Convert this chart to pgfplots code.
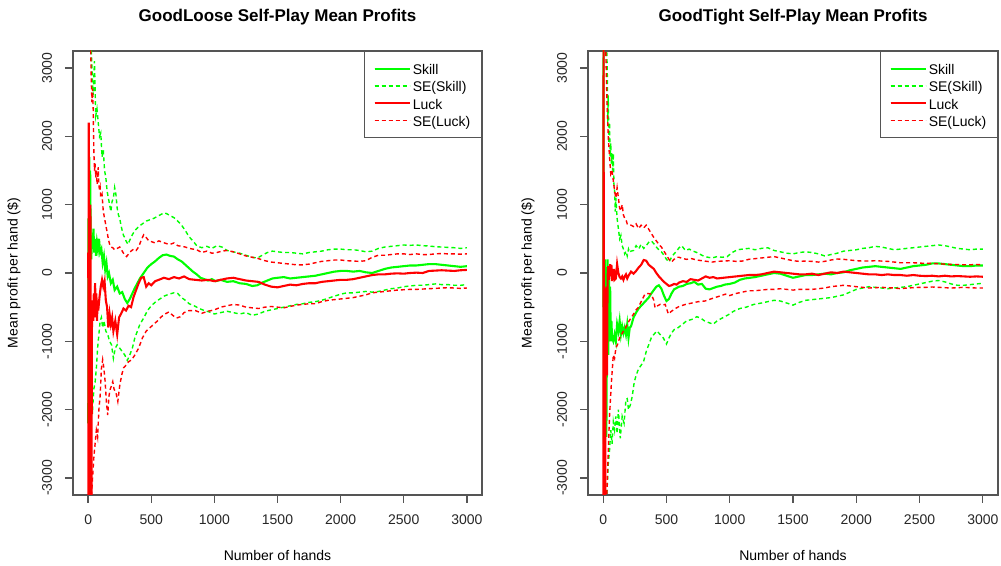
\documentclass[border=0pt]{standalone}
\usepackage{pgfplots}
\pgfplotsset{compat=1.18}
\usepackage{fontspec}
\setmainfont{Liberation Sans}

\definecolor{rgreen}{RGB}{0,255,0}
\definecolor{rred}{RGB}{255,0,0}
\definecolor{rframe}{RGB}{85,85,85}

\pgfplotsset{
  rpanel/.style={
    scale only axis, height=444pt,
    xmin=-120, xmax=3120, ymin=-3250, ymax=3250,
    xtick={0,500,1000,1500,2000,2500,3000},
    xticklabels={0,500,1000,1500,2000,2500,3000},
    ytick={-3000,-2000,-1000,0,1000,2000,3000},
    yticklabels={-3000,-2000,-1000,0,1000,2000,3000},
    tick align=outside, xtick pos=left, ytick pos=left,
    major tick length=8pt,
    axis line style={rframe, line width=1.3pt},
    every tick/.style={rframe, line width=1.3pt},
    ticklabel style={font=\fontsize{14}{16}\selectfont, text=black!85},
    xticklabel style={anchor=center, yshift=-17pt},
    yticklabel style={rotate=90, anchor=center, yshift=18pt},
    title style={at={(0.5,1)}, anchor=center, yshift=28pt,
      font=\fontsize{17}{20}\selectfont\bfseries},
    xlabel style={at={(0.5,0)}, anchor=center, yshift=-60pt,
      font=\fontsize{14}{16}\selectfont},
    ylabel style={at={(0,0.5)}, anchor=center,
      font=\fontsize{14}{16}\selectfont},
    xlabel={Number of hands},
    ylabel={Mean profit per hand (\$)},
    legend cell align=left,
    legend image code/.code={\draw[##1, line width=1.5pt] (0pt,0pt) -- (27pt,0pt); \path (0pt,0pt) -- (35pt,0pt);},
    legend style={at={(1,1)}, anchor=north east, draw=rframe, line width=1.3pt,
      font=\fontsize{14}{16}\selectfont, inner xsep=9pt, inner ysep=8.3pt,
      nodes={inner sep=2pt, text height=12.6pt, text depth=0.7pt}, row sep=0pt},
  },
  skill/.style={rgreen, line width=2.1pt},
  seskill/.style={rgreen, line width=1.4pt, dash pattern=on 4pt off 3pt},
  luck/.style={rred, line width=2.1pt},
  seluck/.style={rred, line width=1.4pt, dash pattern=on 4pt off 3pt},
}

\begin{document}
\begin{tikzpicture}
\useasboundingbox (0pt,0pt) rectangle (1001pt,565pt);

% ---------------- GoodLoose ----------------
\begin{axis}[rpanel, at={(73pt,70pt)}, anchor=south west, width=409pt,
  title={GoodLoose Self-Play Mean Profits},
  ylabel style={yshift=59pt}]
\addplot[skill] coordinates {(1,-2200)(3,800)(6,-500)(9,1700)(12,300)(16,1500)(20,500)(25,200)(30,550)(36,350)(42,650)(48,300)(55,500)(62,250)(70,450)(78,350)(86,500)(95,300)(105,350)(115,150)(125,250)(135,50)(145,150)(155,-50)(165,0)(180,-150)(195,-100)(210,-250)(230,-200)(250,-300)(270,-280)(290,-380)(310,-440)(330,-380)(350,-300)(370,-220)(390,-150)(410,-80)(440,0)(470,80)(500,130)(530,170)(560,220)(590,260)(620,270)(650,250)(680,240)(710,200)(740,170)(770,120)(800,70)(830,20)(860,-20)(890,-70)(920,-90)(950,-110)(980,-90)(1010,-120)(1050,-100)(1100,-130)(1150,-120)(1200,-150)(1250,-160)(1300,-190)(1340,-180)(1380,-140)(1420,-110)(1460,-80)(1500,-70)(1550,-60)(1600,-80)(1650,-70)(1700,-60)(1750,-50)(1800,-40)(1850,-20)(1900,0)(1950,20)(2000,30)(2050,30)(2100,20)(2150,30)(2200,10)(2250,0)(2300,30)(2350,60)(2400,80)(2450,90)(2500,100)(2550,110)(2600,110)(2650,120)(2700,130)(2750,130)(2800,120)(2850,110)(2900,100)(2950,90)(3000,100)};
\addlegendentry{Skill}
\addplot[seskill] coordinates {(1,5000)(10,4500)(20,3600)(25,3250)(30,3000)(40,2600)(50,3100)(60,2300)(70,2400)(80,2200)(90,2000)(100,2050)(110,1700)(120,1800)(130,1500)(140,1400)(150,1200)(160,1100)(170,1000)(180,900)(190,1050)(200,1100)(210,1250)(220,1150)(230,950)(240,850)(250,800)(260,700)(270,620)(280,550)(290,520)(300,470)(315,420)(330,480)(350,560)(370,620)(400,680)(430,720)(460,760)(490,780)(520,800)(550,830)(580,860)(600,880)(620,870)(650,840)(680,810)(710,760)(740,700)(770,620)(800,530)(830,470)(860,400)(900,370)(940,390)(980,360)(1020,400)(1060,380)(1100,330)(1150,310)(1200,290)(1250,260)(1300,230)(1340,220)(1380,260)(1420,300)(1460,320)(1500,310)(1550,300)(1600,300)(1650,290)(1700,280)(1750,300)(1800,310)(1850,320)(1900,340)(1950,350)(2000,350)(2050,340)(2100,340)(2150,330)(2200,310)(2250,320)(2300,360)(2350,380)(2400,390)(2450,400)(2500,410)(2550,405)(2600,410)(2650,400)(2700,395)(2750,385)(2800,380)(2850,375)(2900,370)(2950,360)(3000,370)};
\addlegendentry{SE(Skill)}
\addplot[seskill, forget plot] coordinates {(1,-5000)(10,-3000)(15,-2200)(20,-2500)(25,-1900)(35,-2000)(45,-1700)(55,-1600)(65,-1400)(75,-1100)(85,-900)(95,-700)(105,-650)(115,-800)(125,-700)(140,-850)(155,-900)(170,-1000)(185,-1050)(200,-1250)(215,-1100)(230,-1050)(250,-1100)(270,-1150)(290,-1200)(310,-1280)(330,-1200)(350,-1100)(370,-950)(390,-850)(410,-750)(440,-660)(470,-550)(500,-480)(530,-430)(560,-390)(600,-340)(640,-310)(680,-290)(710,-300)(740,-360)(770,-400)(800,-450)(840,-480)(880,-520)(920,-550)(960,-570)(1000,-600)(1050,-580)(1100,-560)(1150,-580)(1200,-600)(1250,-580)(1300,-620)(1350,-600)(1400,-560)(1450,-540)(1500,-520)(1550,-500)(1600,-480)(1650,-460)(1700,-450)(1750,-430)(1800,-420)(1850,-400)(1900,-370)(1950,-340)(2000,-310)(2050,-290)(2100,-290)(2150,-280)(2200,-270)(2250,-280)(2300,-270)(2350,-250)(2400,-230)(2450,-220)(2500,-200)(2550,-190)(2600,-180)(2650,-180)(2700,-170)(2750,-160)(2800,-170)(2850,-170)(2900,-180)(2950,-180)(3000,-170)};
\addplot[luck] coordinates {(1,300)(3,-3500)(5,2200)(8,-500)(11,500)(14,-3500)(18,1000)(22,-2000)(26,-3500)(30,-800)(35,-400)(40,-700)(45,-300)(50,-650)(55,-150)(60,-600)(65,-300)(70,-700)(75,-400)(80,-550)(90,-350)(100,-200)(110,-100)(120,-200)(130,-120)(140,-400)(150,-500)(160,-800)(170,-600)(180,-750)(190,-650)(200,-850)(215,-700)(230,-900)(245,-650)(260,-600)(280,-520)(300,-550)(320,-480)(340,-500)(360,-350)(380,-250)(400,-150)(420,-70)(440,-60)(460,-200)(480,-150)(500,-180)(530,-120)(560,-100)(600,-70)(640,-90)(680,-60)(720,-80)(760,-50)(800,-90)(850,-100)(900,-110)(950,-100)(1000,-120)(1050,-100)(1100,-80)(1150,-70)(1200,-90)(1250,-110)(1300,-120)(1350,-130)(1400,-170)(1450,-200)(1500,-210)(1550,-190)(1600,-170)(1650,-180)(1700,-160)(1750,-150)(1800,-150)(1850,-130)(1900,-120)(1950,-110)(2000,-100)(2050,-100)(2100,-90)(2150,-70)(2200,-50)(2250,-30)(2300,-20)(2350,-20)(2400,-10)(2450,-5)(2500,-10)(2550,0)(2600,5)(2650,0)(2700,30)(2750,35)(2800,40)(2850,35)(2900,30)(2950,40)(3000,45)};
\addlegendentry{Luck}
\addplot[seluck] coordinates {(1,5000)(10,4200)(18,3500)(25,2800)(30,2500)(35,2700)(40,2400)(45,1800)(50,1500)(55,1600)(60,1400)(65,1500)(70,1300)(75,1350)(80,1550)(85,1300)(90,1200)(95,1250)(100,1100)(110,1150)(120,900)(130,800)(140,700)(150,600)(160,500)(170,420)(180,380)(195,370)(210,340)(230,360)(250,380)(270,320)(290,260)(305,240)(320,280)(340,320)(360,350)(380,330)(400,380)(420,480)(440,560)(460,520)(480,470)(500,460)(530,440)(560,470)(590,450)(620,430)(650,420)(680,440)(710,400)(740,390)(770,380)(800,360)(830,350)(860,340)(900,300)(940,320)(980,290)(1020,300)(1060,320)(1100,330)(1150,310)(1200,280)(1250,250)(1300,230)(1350,210)(1400,180)(1450,160)(1500,150)(1550,140)(1600,130)(1650,120)(1700,120)(1750,130)(1800,150)(1850,170)(1900,180)(1950,190)(2000,190)(2050,180)(2100,175)(2150,170)(2200,180)(2250,230)(2300,260)(2350,260)(2400,270)(2450,280)(2500,280)(2550,270)(2600,280)(2650,270)(2700,270)(2750,280)(2800,285)(2850,280)(2900,280)(2950,275)(3000,280)};
\addlegendentry{SE(Luck)}
\addplot[seluck, forget plot] coordinates {(1,-5000)(15,-3500)(25,-3300)(35,-3000)(45,-2700)(55,-2500)(65,-2300)(75,-2400)(85,-2000)(95,-1800)(105,-1400)(115,-1270)(125,-1400)(135,-1600)(145,-1900)(155,-2080)(165,-1800)(175,-1700)(185,-1650)(195,-1590)(205,-1700)(220,-1750)(235,-1880)(250,-1650)(265,-1500)(280,-1390)(300,-1350)(320,-1300)(345,-1270)(370,-1200)(400,-1100)(430,-950)(460,-850)(490,-800)(520,-750)(550,-700)(580,-640)(610,-600)(640,-570)(670,-620)(700,-660)(730,-640)(760,-580)(800,-550)(850,-550)(900,-590)(950,-560)(1000,-540)(1050,-500)(1100,-480)(1150,-460)(1200,-470)(1250,-500)(1300,-510)(1350,-520)(1400,-500)(1450,-490)(1500,-500)(1550,-510)(1600,-490)(1650,-470)(1700,-460)(1750,-450)(1800,-450)(1850,-420)(1900,-400)(1950,-390)(2000,-380)(2050,-370)(2100,-360)(2150,-340)(2200,-320)(2250,-290)(2300,-280)(2350,-270)(2400,-260)(2450,-250)(2500,-245)(2550,-240)(2600,-240)(2650,-235)(2700,-230)(2750,-225)(2800,-220)(2850,-215)(2900,-220)(2950,-225)(3000,-220)};
\end{axis}

% ---------------- GoodTight ----------------
\begin{axis}[rpanel, at={(588pt,70pt)}, anchor=south west, width=410pt,
  title={GoodTight Self-Play Mean Profits},
  ylabel style={yshift=60pt}]
\addplot[skill] coordinates {(1,-500)(3,3500)(6,-2500)(9,-500)(12,-2450)(15,200)(18,-1500)(21,0)(25,-2400)(30,-800)(35,200)(40,-1200)(45,100)(50,-900)(55,-200)(60,-1000)(65,-700)(70,-950)(80,-1000)(90,-900)(100,-1000)(110,-750)(120,-850)(130,-700)(140,-900)(150,-780)(160,-880)(170,-800)(180,-900)(190,-750)(200,-950)(210,-800)(220,-780)(240,-650)(260,-580)(280,-520)(300,-480)(320,-440)(340,-400)(360,-360)(380,-300)(400,-250)(420,-200)(440,-180)(460,-230)(480,-330)(500,-410)(520,-380)(540,-300)(560,-240)(580,-220)(600,-200)(630,-190)(660,-160)(690,-150)(720,-130)(750,-170)(780,-160)(810,-230)(840,-240)(870,-220)(900,-200)(930,-190)(960,-170)(1000,-160)(1040,-140)(1080,-100)(1120,-80)(1160,-70)(1200,-60)(1250,-40)(1300,-20)(1350,0)(1400,-10)(1450,-40)(1500,-70)(1550,-50)(1600,-30)(1650,-30)(1700,-20)(1750,-10)(1800,-20)(1850,0)(1900,10)(1950,40)(2000,60)(2050,80)(2100,90)(2150,100)(2200,90)(2250,80)(2300,70)(2350,60)(2400,80)(2450,100)(2500,110)(2550,120)(2600,140)(2650,140)(2700,130)(2750,120)(2800,110)(2850,100)(2900,100)(2950,110)(3000,110)};
\addlegendentry{Skill}
\addplot[seskill] coordinates {(1,6000)(20,4500)(28,3250)(32,3000)(36,2200)(40,2600)(45,1900)(50,2200)(55,1700)(60,1900)(65,1600)(70,1750)(75,1500)(80,1750)(85,1300)(90,1200)(95,900)(100,1100)(110,800)(120,650)(130,500)(140,550)(150,400)(160,350)(170,280)(180,320)(190,250)(200,350)(210,300)(220,320)(240,330)(260,400)(280,350)(300,420)(320,360)(340,400)(360,450)(380,470)(400,430)(420,380)(440,340)(460,310)(480,260)(500,200)(520,160)(540,230)(560,280)(580,320)(600,370)(620,400)(650,330)(680,350)(710,320)(740,300)(770,270)(800,240)(830,230)(860,220)(900,240)(940,230)(980,240)(1020,300)(1060,340)(1100,350)(1150,360)(1200,340)(1250,360)(1300,370)(1350,330)(1400,310)(1450,290)(1500,280)(1550,300)(1600,310)(1650,300)(1700,280)(1750,250)(1800,270)(1850,290)(1900,320)(1950,330)(2000,340)(2050,360)(2100,370)(2150,390)(2200,380)(2250,360)(2300,340)(2350,350)(2400,360)(2450,370)(2500,380)(2550,390)(2600,400)(2650,410)(2700,400)(2750,380)(2800,360)(2850,350)(2900,340)(2950,350)(3000,350)};
\addlegendentry{SE(Skill)}
\addplot[seskill, forget plot] coordinates {(1,-6000)(20,-4500)(30,-3200)(40,-2800)(50,-2600)(60,-2300)(70,-2500)(80,-2180)(90,-2300)(100,-2100)(110,-2350)(120,-2000)(135,-2420)(150,-2100)(165,-2200)(180,-1850)(190,-1840)(200,-2000)(215,-1930)(230,-1800)(245,-1600)(260,-1500)(280,-1400)(300,-1350)(320,-1290)(340,-1150)(360,-1050)(380,-950)(400,-900)(425,-850)(450,-900)(475,-950)(500,-1040)(520,-950)(540,-880)(560,-830)(585,-810)(620,-760)(660,-700)(700,-680)(740,-640)(770,-660)(800,-700)(840,-730)(870,-750)(900,-700)(950,-650)(1000,-600)(1030,-560)(1080,-520)(1130,-500)(1190,-460)(1250,-440)(1300,-420)(1350,-400)(1400,-410)(1450,-440)(1500,-470)(1550,-430)(1600,-400)(1650,-390)(1700,-380)(1750,-370)(1800,-360)(1850,-340)(1900,-320)(1950,-280)(2000,-240)(2050,-220)(2100,-200)(2150,-210)(2200,-220)(2250,-230)(2300,-220)(2350,-210)(2400,-200)(2450,-180)(2500,-160)(2550,-140)(2600,-120)(2650,-110)(2700,-130)(2750,-160)(2800,-180)(2850,-180)(2900,-170)(2950,-160)(3000,-150)};
\addplot[luck] coordinates {(1,-3500)(3,3500)(5,-500)(7,-3500)(10,-3500)(13,-1000)(16,-3500)(20,-500)(25,-200)(30,-1500)(35,-50)(40,100)(45,-100)(50,50)(55,130)(60,-50)(65,120)(70,-120)(75,50)(80,-100)(85,60)(90,-100)(100,-80)(110,130)(120,0)(130,-60)(140,-80)(150,-50)(160,-100)(170,-50)(180,-20)(190,-80)(200,-40)(220,20)(240,-10)(260,30)(280,80)(300,120)(320,190)(340,180)(360,120)(380,90)(400,60)(420,0)(440,-50)(460,-90)(480,-130)(500,-160)(520,-190)(540,-180)(560,-160)(580,-170)(600,-140)(630,-120)(660,-130)(690,-90)(720,-100)(750,-110)(780,-80)(810,-50)(840,-70)(870,-60)(900,-80)(950,-70)(1000,-60)(1050,-50)(1100,-40)(1150,-30)(1200,-30)(1250,-20)(1300,0)(1350,20)(1400,10)(1450,0)(1500,-10)(1550,-20)(1600,-20)(1650,-10)(1700,-30)(1750,-10)(1800,10)(1850,0)(1900,20)(1950,10)(2000,0)(2050,-10)(2100,-20)(2150,-20)(2200,-30)(2250,-20)(2300,-30)(2350,-30)(2400,-40)(2450,-30)(2500,-40)(2550,-45)(2600,-40)(2650,-50)(2700,-40)(2750,-50)(2800,-45)(2850,-50)(2900,-55)(2950,-50)(3000,-55)};
\addlegendentry{Luck}
\addplot[seluck] coordinates {(1,6000)(10,4500)(20,3300)(30,2500)(40,2000)(50,1700)(60,1450)(70,1500)(80,1350)(90,1200)(100,1100)(110,1250)(120,1100)(130,950)(140,910)(150,1000)(160,850)(170,800)(180,780)(190,720)(200,720)(220,700)(240,680)(260,720)(280,650)(300,700)(320,660)(340,700)(360,640)(380,580)(400,520)(420,470)(440,420)(460,380)(480,320)(500,260)(520,200)(540,160)(560,200)(580,230)(600,230)(630,210)(660,200)(700,210)(740,190)(780,180)(820,170)(860,160)(900,170)(950,175)(1000,180)(1050,170)(1100,175)(1150,200)(1200,210)(1250,220)(1300,230)(1350,240)(1400,220)(1450,200)(1500,180)(1550,170)(1600,175)(1650,170)(1700,160)(1750,170)(1800,190)(1850,205)(1900,200)(1950,190)(2000,180)(2050,175)(2100,175)(2150,180)(2200,175)(2250,170)(2300,160)(2350,150)(2400,150)(2450,150)(2500,145)(2550,140)(2600,140)(2650,135)(2700,130)(2750,125)(2800,125)(2850,120)(2900,120)(2950,125)(3000,120)};
\addlegendentry{SE(Luck)}
\addplot[seluck, forget plot] coordinates {(1,-6000)(15,-4500)(25,-3500)(30,-3160)(40,-2600)(50,-2100)(55,-1930)(65,-1600)(80,-1200)(90,-1250)(100,-1100)(115,-1040)(130,-950)(145,-900)(160,-850)(175,-810)(190,-750)(205,-700)(220,-660)(240,-600)(260,-540)(275,-510)(300,-420)(330,-310)(355,-300)(380,-310)(400,-400)(410,-510)(430,-480)(450,-460)(470,-470)(490,-460)(515,-600)(540,-560)(570,-520)(600,-490)(650,-460)(700,-440)(750,-420)(805,-410)(850,-380)(900,-350)(965,-310)(1000,-330)(1050,-300)(1100,-280)(1150,-260)(1200,-260)(1250,-250)(1300,-240)(1350,-240)(1400,-230)(1450,-240)(1500,-250)(1550,-240)(1600,-240)(1650,-240)(1700,-230)(1750,-220)(1800,-200)(1850,-190)(1900,-180)(1950,-190)(2000,-200)(2050,-210)(2100,-220)(2150,-215)(2200,-210)(2250,-215)(2300,-220)(2350,-230)(2400,-220)(2450,-215)(2500,-210)(2550,-210)(2600,-205)(2650,-210)(2700,-215)(2750,-220)(2800,-215)(2850,-210)(2900,-215)(2950,-220)(3000,-220)};
\end{axis}
\end{tikzpicture}
\end{document}
